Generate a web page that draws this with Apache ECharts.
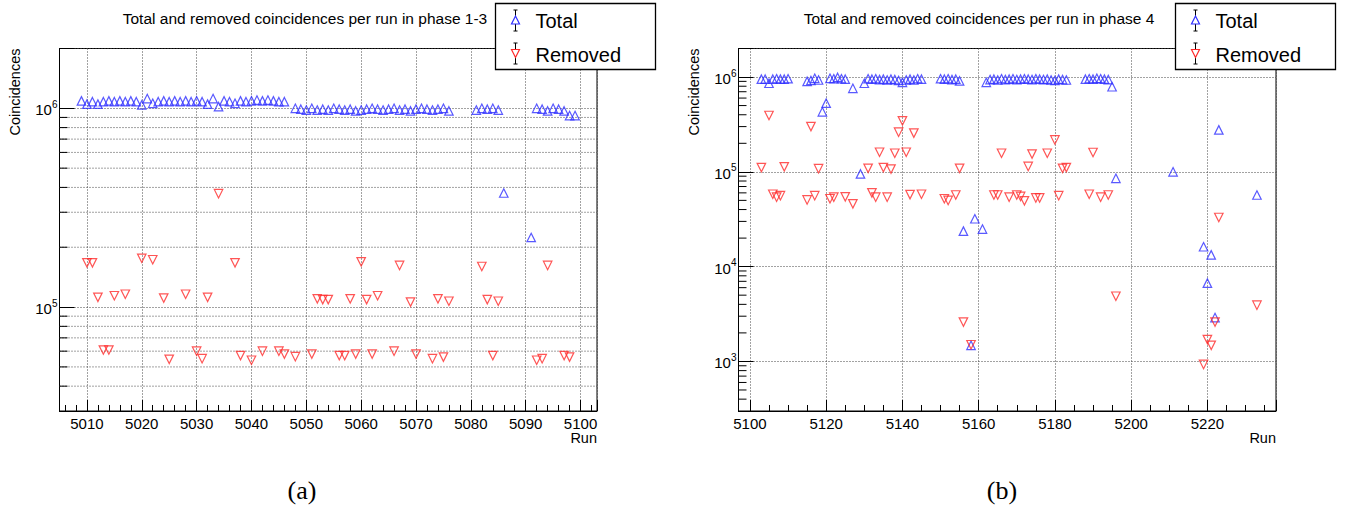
<!DOCTYPE html>
<html>
<head>
<meta charset="utf-8">
<script src="https://cdn.jsdelivr.net/npm/echarts@6/dist/echarts.min.js"></script>
<style>
html,body{margin:0;padding:0;background:#fff}
#chart{width:1347px;height:509px}
</style>
</head>
<body>
<div id="chart"></div>
<script>
// ---- phase 1-3 (left pad) ----
const runsTotalA = [
  5009,5010,5011,5012,5013,5014,5015,5016,5017,5018,5019,5020,5021,5022,5023,5024,5025,5026,5027,
  5028,5029,5030,5031,5032,5033,5034,5035,5036,5037,5038,5039,5040,5041,5042,5043,5044,5045,5046,
  5048,5049,5050,5051,5052,5053,5054,5055,5056,5057,5058,5059,5060,5061,5062,5063,5064,5065,5066,
  5067,5068,5069,5070,5071,5072,5073,5074,5075,5076,
  5081,5082,5083,5084,5085,5086,5091,5092,5093,5094,5095,5096,5097,5098,5099
];
const totalA = [
  1.09e6,1.05e6,1.08e6,1.05e6,1.08e6,1.09e6,1.08e6,1.09e6,1.08e6,1.09e6,1.08e6,1.04e6,1.12e6,1.06e6,1.08e6,1.09e6,1.08e6,1.09e6,1.08e6,
  1.09e6,1.08e6,1.09e6,1.08e6,1.05e6,1.12e6,1.02e6,1.09e6,1.08e6,1.06e6,1.09e6,1.08e6,1.09e6,1.10e6,1.09e6,1.10e6,1.09e6,1.08e6,1.08e6,
  1.00e6,0.99e6,0.98e6,1.00e6,0.98e6,0.99e6,0.98e6,1.00e6,0.99e6,0.98e6,0.99e6,0.97e6,0.98e6,0.99e6,1.00e6,0.99e6,0.98e6,0.99e6,1.00e6,
  0.98e6,0.99e6,0.97e6,0.99e6,1.00e6,0.99e6,0.98e6,0.99e6,1.00e6,0.97e6,
  0.98e6,1.00e6,0.99e6,1.00e6,0.98e6,3.75e5,2.24e5,1.00e6,0.99e6,0.97e6,1.00e6,0.99e6,0.97e6,0.92e6,0.92e6
];
const runsRemovedA = [
  5010,5011,5012,5013,5014,5015,5017,5020,5022,5024,5025,5028,5030,5031,5032,5034,5037,5038,5040,5042,
  5045,5046,5048,5051,5052,5053,5054,5056,5057,5058,5059,5060,5061,5062,5063,5066,5067,5069,5070,5073,
  5074,5075,5076,5082,5083,5084,5085,5092,5093,5094,5097,5098
];
const removedA = [
  1.67e5,1.67e5,1.12e5,6.08e4,6.08e4,1.14e5,1.16e5,1.76e5,1.73e5,1.11e5,5.46e4,1.16e5,6.0e4,5.5e4,1.12e5,3.72e5,1.67e5,5.7e4,5.4e4,6.0e4,
  6.0e4,5.8e4,5.63e4,5.8e4,1.1e5,1.09e5,1.09e5,5.7e4,5.7e4,1.1e5,5.8e4,1.69e5,1.09e5,5.8e4,1.14e5,6.0e4,1.62e5,1.06e5,5.8e4,5.5e4,
  1.1e5,5.6e4,1.07e5,1.6e5,1.09e5,5.7e4,1.07e5,5.4e4,5.5e4,1.62e5,5.7e4,5.6e4
];

// ---- phase 4 (right pad) ----
const runsTotalB = [
  5103,5104,5105,5106,5107,5108,5109,5110,
  5115,5116,5117,5118,5119,5120,5121,5122,5123,5124,5125,5127,5129,
  5130,5131,5132,5133,5134,5135,5136,5137,5138,5139,5140,5141,5142,5143,5144,5145,
  5150,5151,5152,5153,5154,5155,5156,5158,5159,5161,
  5162,5163,5164,5165,5166,5167,5168,5169,5170,5171,5172,5173,5174,5175,5176,5177,5178,5179,5180,5181,5182,5183,
  5188,5189,5190,5191,5192,5193,5194,5195,5196,
  5211,5219,5220,5221,5222,5223,5233
];
const totalB = [
  9.5e5,9.5e5,8.6e5,9.5e5,9.6e5,9.5e5,9.5e5,9.6e5,
  9.0e5,9.2e5,9.7e5,9.3e5,4.3e5,5.3e5,9.7e5,9.6e5,9.9e5,9.6e5,9.5e5,7.6e5,9.5e4,
  8.6e5,9.6e5,9.5e5,9.6e5,9.4e5,9.5e5,9.3e5,9.5e5,9.4e5,9.2e5,8.8e5,9.3e5,9.5e5,9.3e5,9.6e5,9.5e5,
  9.6e5,9.5e5,9.6e5,9.4e5,9.5e5,9.1e5,2.37e4,1.48e3,3.2e4,2.49e4,
  8.8e5,9.4e5,9.5e5,9.3e5,9.6e5,9.4e5,9.5e5,9.6e5,9.4e5,9.5e5,9.6e5,9.5e5,9.4e5,9.6e5,9.5e5,9.4e5,9.5e5,9.3e5,9.2e5,9.5e5,9.4e5,9.3e5,
  9.5e5,9.6e5,9.5e5,9.7e5,9.6e5,9.5e5,9.4e5,7.9e5,8.55e4,
  1.0e5,1.62e4,6.7e3,1.33e4,2.9e3,2.77e5,5.7e4
];
const runsRemovedB = [
  5103,5105,5106,5107,5108,5109,5115,5116,5117,5118,5121,5122,5125,5127,5131,5132,5133,5134,5135,5136,
  5137,5138,5139,5140,5141,5142,5143,5145,5151,5152,5154,5155,5156,5158,5164,5165,5166,5168,5170,5171,
  5172,5173,5174,5175,5176,5178,5180,5181,5182,5183,5189,5190,5192,5194,5196,5219,5220,5221,5222,5223,5233
];
const removedB = [
  1.11e5,3.93e5,5.8e4,5.4e4,5.6e4,1.13e5,5.05e4,3.0e5,5.6e4,1.08e5,5.2e4,5.4e4,5.45e4,4.6e4,1.09e5,6.0e4,5.4e4,1.61e5,1.11e5,5.4e4,
  1.07e5,1.57e5,2.62e5,3.45e5,1.61e5,5.75e4,2.56e5,5.8e4,5.2e4,4.99e4,5.7e4,1.09e5,2.6e3,1.5e3,5.7e4,5.7e4,1.57e5,5.4e4,5.7e4,5.5e4,
  4.95e4,1.14e5,1.54e5,5.3e4,5.3e4,1.57e5,2.17e5,5.6e4,1.09e5,1.11e5,5.8e4,1.6e5,5.4e4,5.7e4,4.87e3,930,1.7e3,1.48e3,2.6e3,3.3e4,3.92e3
];

// minor log ticks (2..9 x 10^n) inside each y range
const minorTicksA = [4e4,5e4,6e4,7e4,8e4,9e4,2e5,3e5,4e5,5e5,6e5,7e5,8e5,9e5];
const minorTicksB = [
  4e2,5e2,6e2,7e2,8e2,9e2,2e3,3e3,4e3,5e3,6e3,7e3,8e3,9e3,
  2e4,3e4,4e4,5e4,6e4,7e4,8e4,9e4,2e5,3e5,4e5,5e5,6e5,7e5,8e5,9e5
];

const FONT = "'Liberation Sans', Arial, sans-serif";
const BLUE = '#2f2fff', RED = '#ff2a2a', GRIDC = '#444';
const zip = (xs, ys) => xs.map((x, i) => [x, ys[i]]);

const chart = echarts.init(document.getElementById('chart'), null, {renderer: 'svg'});

function xAxisFor(idx, min, max, split, minorSplit){
  return {
    type: 'value', gridIndex: idx, min, max, splitNumber: split,
    axisLine: {lineStyle: {color: '#000', width: 1}},
    axisTick: {inside: true, length: 11, lineStyle: {color: '#000'}},
    minorTick: {show: true, splitNumber: minorSplit, length: 6, lineStyle: {color: '#000'}},
    splitLine: {show: true, lineStyle: {color: GRIDC, type: [1, 2]}},
    axisLabel: {color: '#000', fontSize: 15, fontFamily: FONT, margin: 5, showMinLabel: false, showMaxLabel: false,
      formatter: v => String(v)}
  };
}
function yAxisFor(idx, min, max){
  return {
    type: 'log', logBase: 10, gridIndex: idx, min, max,
    axisLine: {show: true, lineStyle: {color: '#000', width: 1}},
    axisTick: {show: true, inside: true, length: 15, lineStyle: {color: '#000'}},
    splitLine: {show: true, lineStyle: {color: GRIDC, type: [1, 2]}},
    axisLabel: {
      margin: 2,
      formatter: v => {
        const e = Math.log10(v);
        if(Math.abs(e - Math.round(e)) > 1e-6) return '';
        return `{b|10}{s|${Math.round(e)}}`;
      },
      rich: {
        b: {fontSize: 15, fontFamily: FONT, color: '#000', lineHeight: 18, verticalAlign: 'bottom'},
        s: {fontSize: 10, fontFamily: FONT, color: '#000', lineHeight: 10, verticalAlign: 'top'}
      }
    }
  };
}
function minorTicks(withGrid){
  return (params, api) => {
    const cs = params.coordSys;
    const y = api.coord([api.value(0), api.value(1)])[1];
    const kids = [];
    if(withGrid) kids.push({type: 'line', shape: {x1: cs.x, y1: y, x2: cs.x + cs.width, y2: y},
      style: {stroke: GRIDC, lineWidth: 1, lineDash: [1, 2]}});
    kids.push({type: 'line', shape: {x1: cs.x, y1: y, x2: cs.x + 8, y2: y}, style: {stroke: '#000', lineWidth: 1}});
    return {type: 'group', children: kids};
  };
}
function scatter(name, idx, data, up){
  return {
    name, type: 'scatter', xAxisIndex: idx, yAxisIndex: idx, data,
    symbol: 'triangle', symbolSize: 8.5, symbolRotate: up ? 0 : 180,
    itemStyle: {color: 'rgba(0,0,0,0)', borderColor: up ? BLUE : RED, borderWidth: 1.2},
    z: up ? 3 : 4, silent: true
  };
}
function legendBox(dx){
  const tri = (cx, cy, up) => up
    ? [[cx - 4, cy + 3.5], [cx + 4, cy + 3.5], [cx, cy - 4.5]]
    : [[cx - 4, cy - 3.5], [cx + 4, cy - 3.5], [cx, cy + 4.5]];
  const ln = (x1, y1, x2, y2) => ({type: 'line', z: 101, shape: {x1, y1, x2, y2}, style: {stroke: '#000', lineWidth: 1}});
  const bar = (x, y1, y2) => [ln(x, y1, x, y2), ln(x - 2, y1, x + 2, y1), ln(x - 2, y2, x + 2, y2)];
  const x0 = 495.5 + dx;
  return [
    {type: 'rect', z: 100, shape: {x: x0, y: 3.5, width: 160, height: 66}, style: {fill: '#fff', stroke: '#000', lineWidth: 1.3}},
    ...bar(x0 + 20, 10, 31),
    {type: 'polygon', z: 102, shape: {points: tri(x0 + 20, 20.5, true)}, style: {fill: '#fff', stroke: BLUE, lineWidth: 1.2}},
    {type: 'text', z: 102, style: {x: x0 + 40, y: 21, text: 'Total', font: `20px ${FONT}`, fill: '#000', verticalAlign: 'middle'}},
    ...bar(x0 + 20, 43, 64),
    {type: 'polygon', z: 102, shape: {points: tri(x0 + 20, 53, false)}, style: {fill: '#fff', stroke: RED, lineWidth: 1.2}},
    {type: 'text', z: 102, style: {x: x0 + 40, y: 55, text: 'Removed', font: `20px ${FONT}`, fill: '#000', verticalAlign: 'middle'}}
  ];
}
function padTexts(dx, title, titleX, cap, capX){
  return [
    {type: 'text', style: {x: titleX, y: 18, text: title, font: `15.5px ${FONT}`, fill: '#000', align: 'center', verticalAlign: 'middle'}},
    {type: 'text', x: 15 + dx, y: 48.5, rotation: Math.PI / 2,
      style: {x: 0, y: 0, text: 'Coincidences', font: `14.5px ${FONT}`, fill: '#000', align: 'right', verticalAlign: 'middle'}},
    {type: 'text', style: {x: 597 + dx, y: 438, text: 'Run', font: `14.5px ${FONT}`, fill: '#000', align: 'right', verticalAlign: 'middle'}},
    {type: 'text', style: {x: capX, y: 490, text: cap, font: `26px 'Liberation Serif', serif`, fill: '#000', align: 'center', verticalAlign: 'middle'}}
  ];
}

chart.setOption({
  animation: false,
  backgroundColor: '#fff',
  grid: [
    {left: 59.5, top: 48.5, width: 537.5, height: 362.5, show: true, borderColor: '#000', borderWidth: 1, backgroundColor: '#fff', containLabel: false, outerBoundsMode: 'none'},
    {left: 738.5, top: 48.5, width: 537.5, height: 362.5, show: true, borderColor: '#000', borderWidth: 1, backgroundColor: '#fff', containLabel: false, outerBoundsMode: 'none'}
  ],
  xAxis: [xAxisFor(0, 5005, 5103, 10, 5), xAxisFor(1, 5097, 5238, 7, 4)],
  yAxis: [yAxisFor(0, 3e4, 2e6), yAxisFor(1, 3e2, 2e6)],
  series: [
    {type: 'custom', xAxisIndex: 0, yAxisIndex: 0, z: 1, silent: true, renderItem: minorTicks(true),
      data: minorTicksA.map(v => [5005, v])},
    {type: 'custom', xAxisIndex: 1, yAxisIndex: 1, z: 1, silent: true, renderItem: minorTicks(false),
      data: minorTicksB.map(v => [5097, v])},
    scatter('Total', 0, zip(runsTotalA, totalA), true),
    scatter('Removed', 0, zip(runsRemovedA, removedA), false),
    scatter('Total', 1, zip(runsTotalB, totalB), true),
    scatter('Removed', 1, zip(runsRemovedB, removedB), false)
  ],
  graphic: [
    ...padTexts(0, 'Total and removed coincidences per run in phase 1-3', 305, '(a)', 302),
    ...padTexts(679, 'Total and removed coincidences per run in phase 4', 979, '(b)', 1002),
    ...legendBox(0),
    ...legendBox(680)
  ]
});
</script>
</body>
</html>
